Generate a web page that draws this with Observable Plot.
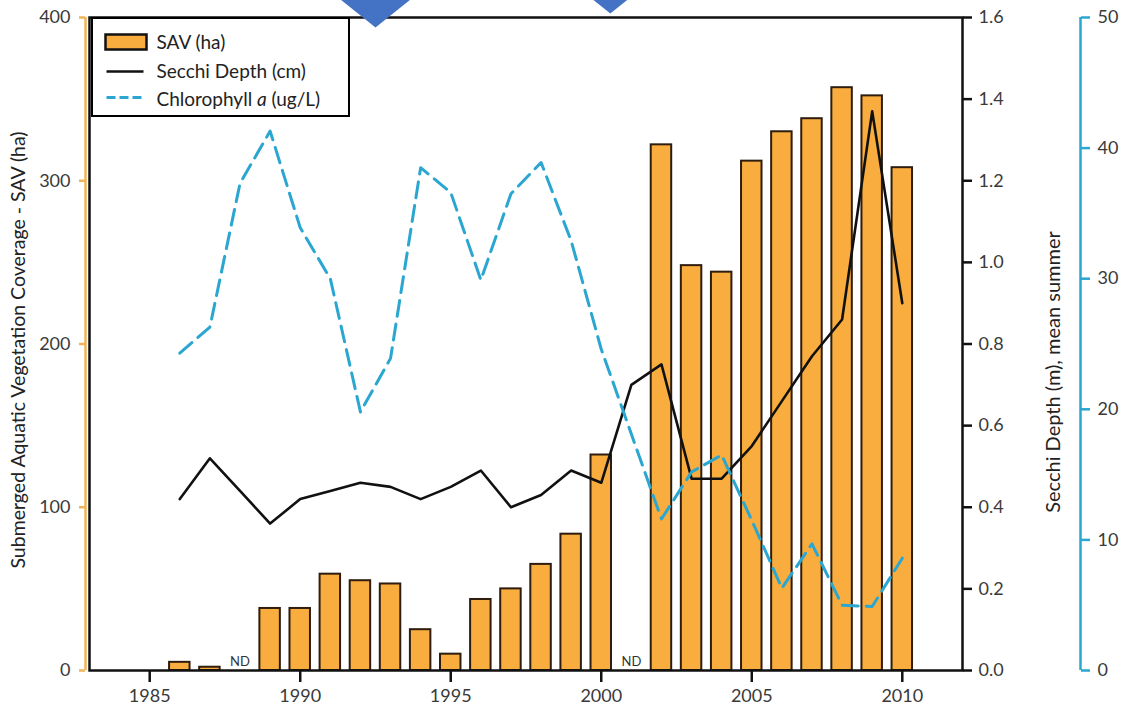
<!DOCTYPE html>
<html>
<head>
<meta charset="utf-8">
<script src="https://cdn.jsdelivr.net/npm/d3@7"></script>
<script src="https://cdn.jsdelivr.net/npm/@observablehq/plot@0.6"></script>
<style>
  html, body { margin: 0; padding: 0; background: #fff; }
  #wrap { position: relative; width: 1125px; height: 710px; font-family: Lato, sans-serif; }
  #legend {
    position: absolute; left: 91px; top: 17px; width: 255px; height: 96px;
    border: 2.5px solid #000; background: #fff;
  }
  #legend svg { display: block; }
</style>
</head>
<body>
<div id="wrap">
  <div id="chart"></div>
  <div id="legend"></div>
</div>
<script>
// Survey years
const years = [1986, 1987, 1988, 1989, 1990, 1991, 1992, 1993, 1994, 1995, 1996, 1997, 1998,
               1999, 2000, 2001, 2002, 2003, 2004, 2005, 2006, 2007, 2008, 2009, 2010];
// Submerged aquatic vegetation coverage (ha); null = no data (ND)
const savHa = [5, 2, null, 38, 38, 59, 55, 53, 25, 10, 43.5, 50, 65,
               83.5, 132, null, 322, 248, 244, 312, 330, 338, 357, 352, 308];
// Mean summer Secchi depth (m)
const secchiM = [0.42, 0.52, 0.44, 0.36, 0.42, 0.44, 0.46, 0.45, 0.42, 0.45, 0.49, 0.40, 0.43,
                 0.49, 0.46, 0.70, 0.75, 0.47, 0.47, 0.55, 0.66, 0.77, 0.86, 1.37, 0.90];
// Chlorophyll a (ug/L)
const chlUgL = [24.3, 26.3, 37.3, 41.3, 33.9, 30.0, 19.8, 23.9, 38.5, 36.6, 29.9, 36.5, 38.9,
                32.9, 24.6, 18.1, 11.6, 15.2, 16.5, 11.5, 6.3, 9.7, 5.0, 4.9, 8.6];

// Axis ticks
const yearTicks = [1985, 1990, 1995, 2000, 2005, 2010];
const savTicks = [0, 100, 200, 300, 400];
const secchiTicks = [0, 0.2, 0.4, 0.6, 0.8, 1.0, 1.2, 1.4, 1.6];
const chlTicks = [0, 10, 20, 30, 40, 50];

// Event markers along the top edge
const eventYears = [1992.5, 2000.3];
const eventSizes = [40, 20];

// Text
const savTitle = "Submerged Aquatic Vegetation Coverage - SAV (ha)";
const secchiTitle = "Secchi Depth (m), mean summer";
const ndLabel = "ND";

// Colours
const ORANGE = "#F9AD3E";
const AXIS_ORANGE = "#F1B457";
const CYAN = "#2AA6D0";
const BLUE = "#4472C4";
const INK = "#3a3a3a";

// Secondary series share the SAV scale: 1.6 m and 50 ug/L sit at 400 ha
const SECCHI_K = 400 / 1.6;
const CHL_K = 400 / 50;

const rows = years.map((year, i) => ({year, sav: savHa[i], secchi: secchiM[i], chl: chlUgL[i]}));
const bars = rows.filter(d => d.sav != null);
const ndYears = rows.filter(d => d.sav == null).map(d => d.year);

// Flattened diamond for the event markers
const wideDiamond = {
  draw(ctx, size) {
    const w = Math.sqrt(size / Math.PI), h = 0.8 * w;
    ctx.moveTo(0, -h); ctx.lineTo(w, 0); ctx.lineTo(0, h); ctx.lineTo(-w, 0); ctx.closePath();
  }
};

const chart = Plot.plot({
  width: 1125,
  height: 710,
  marginLeft: 89,
  marginRight: 163,
  marginTop: 17,
  marginBottom: 40,
  x: {domain: [1983, 2012]},
  y: {domain: [0, 400]},
  style: {fontFamily: "Lato, sans-serif", fontSize: "18px", color: INK, background: "white", overflow: "hidden"},
  marks: [
    Plot.rectY(bars, {
      x1: d => d.year - 0.34, x2: d => d.year + 0.34, y: "sav",
      fill: ORANGE, stroke: "#2e1d0e", strokeWidth: 2
    }),
    Plot.text(ndYears, {x: d => d, y: 0, dy: -9, text: () => ndLabel, fontSize: 13, fill: "#333"}),
    Plot.line(rows, {x: "year", y: d => d.secchi * SECCHI_K, stroke: "#111", strokeWidth: 2.6}),
    Plot.line(rows, {
      x: "year", y: d => d.chl * CHL_K, stroke: CYAN, strokeWidth: 3,
      strokeDasharray: "16,8"
    }),
    Plot.frame({stroke: "#111", strokeWidth: 2.5}),
    // left SAV axis
    Plot.ruleX([1983], {stroke: AXIS_ORANGE, strokeWidth: 2.5, dx: -4}),
    Plot.axisY(savTicks, {
      anchor: "left", dx: -4, tickSize: 6, tickPadding: 9, stroke: AXIS_ORANGE, strokeWidth: 2.5,
      fill: INK, label: null
    }),
    // bottom year axis
    Plot.axisX(yearTicks, {
      tickSize: 12, tickPadding: 7, stroke: "#111", strokeWidth: 2.5, fill: INK,
      tickFormat: d => String(d), label: null
    }),
    // right Secchi axis
    Plot.axisY(secchiTicks.map(v => v * SECCHI_K), {
      anchor: "right", tickSize: 9, tickPadding: 7, stroke: "#111", strokeWidth: 2.5, fill: INK,
      tickFormat: d => (d / SECCHI_K).toFixed(1), label: null
    }),
    // far-right chlorophyll axis
    Plot.ruleX([2012], {stroke: CYAN, strokeWidth: 2.5, dx: 118}),
    Plot.axisY(chlTicks.map(v => v * CHL_K), {
      anchor: "right", dx: 118, tickSize: 9, tickPadding: 8, stroke: CYAN, strokeWidth: 2.5, fill: INK,
      tickFormat: d => String(Math.round(d / CHL_K)), label: null
    }),
    // axis titles
    Plot.text([savTitle], {
      frameAnchor: "left", textAnchor: "middle", rotate: -90, dx: -71, dy: 6, fill: "#222", fontSize: 19.5
    }),
    Plot.text([secchiTitle], {
      frameAnchor: "right", textAnchor: "middle", rotate: -90, dx: 91, dy: 28, fill: "#222", fontSize: 20
    }),
    // event markers
    ...eventYears.map((year, i) => Plot.dot([year], {
      x: d => d, frameAnchor: "top", dy: i === 0 ? -22 : -20,
      r: eventSizes[i], symbol: wideDiamond, fill: BLUE, stroke: "none"
    }))
  ]
});
document.getElementById("chart").append(chart);

// Legend
const L = d3.select("#legend").append("svg").attr("width", 255).attr("height", 96)
  .style("font-family", "Lato, sans-serif").style("font-size", "19px");
L.append("rect").attr("x", 12.5).attr("y", 15.5).attr("width", 41).attr("height", 15)
  .attr("fill", ORANGE).attr("stroke", "#111").attr("stroke-width", 2.5);
L.append("line").attr("x1", 13.5).attr("x2", 50.5).attr("y1", 52.5).attr("y2", 52.5)
  .attr("stroke", "#111").attr("stroke-width", 2.6);
L.append("line").attr("x1", 13.5).attr("x2", 50.5).attr("y1", 78.5).attr("y2", 78.5)
  .attr("stroke", CYAN).attr("stroke-width", 3).attr("stroke-dasharray", "9,4");
const labels = [["SAV (ha)", 23.5], ["Secchi Depth (cm)", 52.5]];
labels.forEach(([t, y]) => L.append("text").attr("x", 63.5).attr("y", y).attr("dy", "0.35em")
  .attr("fill", "#222").text(t));
const chlText = L.append("text").attr("x", 63.5).attr("y", 80).attr("dy", "0.35em").attr("fill", "#222");
chlText.append("tspan").text("Chlorophyll ");
chlText.append("tspan").attr("font-style", "italic").text("a");
chlText.append("tspan").text(" (ug/L)");
</script>
</body>
</html>
